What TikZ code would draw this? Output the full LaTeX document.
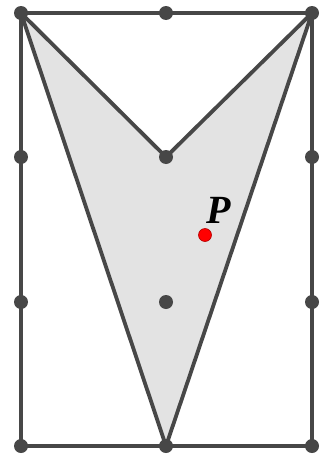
\documentclass[tikz,border=0pt]{standalone}
\usepackage{fontspec}
\setmainfont{Liberation Serif}
\begin{document}
\begin{tikzpicture}[x=1pt,y=-1pt,
  edge/.style={draw=black!72,line width=3.8pt,line join=round},
  dot/.style={circle,fill=black!72,inner sep=0pt,minimum size=14pt},
  pdot/.style={circle,fill=red,draw=red!70!black,line width=0.6pt,inner sep=0pt,minimum size=13pt}]
\useasboundingbox (0,0) rectangle (324,455);
\coordinate (A) at (21,13);
\coordinate (B) at (312,13);
\coordinate (C) at (312,446);
\coordinate (D) at (21,446);
\coordinate (M) at (166,157);
\coordinate (N) at (166,446);
\fill[black!11] (A) -- (M) -- (B) -- (N) -- cycle;
\draw[edge] (A) -- (B) -- (C) -- (D) -- cycle;
\draw[edge] (A) -- (M) -- (B) -- (N) -- cycle;
\foreach \n/\x/\y in {a/21/13,b/166/13,c/312/13,d/21/157,e/312/157,f/21/302,g/312/302,h/21/446,i/166/446,j/312/446,k/166/157,l/166/302}
  \node[dot] (\n) at (\x,\y) {};
\node[pdot] (P) at (205,235) {};
\node[font=\bfseries\itshape\fontsize{40}{44}\selectfont,inner sep=0pt] (Pl) at (219,210) {P};
\end{tikzpicture}
\end{document}
